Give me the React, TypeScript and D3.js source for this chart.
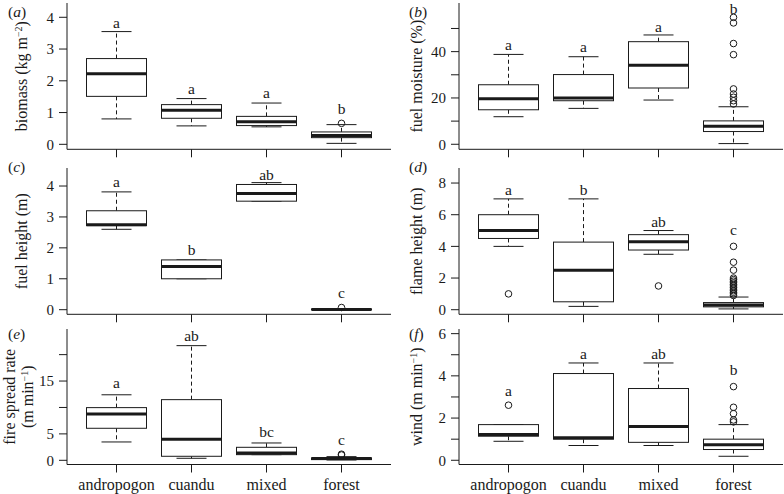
import React from "react";
import * as d3 from "d3";

// ---------- data ----------
const categories = ["andropogon", "cuandu", "mixed", "forest"];

// each entry: [whiskerLow, q1, median, q3, whiskerHigh]
const biomassStats = [[0.80, 1.51, 2.22, 2.70, 3.55], [0.58, 0.82, 1.07, 1.25, 1.44], [0.55, 0.59, 0.71, 0.88, 1.30], [0.03, 0.21, 0.28, 0.39, 0.62]];
const biomassOutliers = [[], [], [], [0.66]];
const biomassLetters = ["a", "a", "a", "b"];
const biomassLetterY = [3.65, 1.59, 1.45, 0.94];
const biomassTicks = [0, 1, 2, 3, 4];
const biomassTickLabels = [0, 1, 2, 3, 4];

const moistureStats = [[11.9, 14.9, 19.7, 25.7, 38.8], [15.5, 18.8, 20.0, 30.1, 37.8], [19.1, 24.3, 34.1, 44.3, 47.2], [0.3, 5.5, 7.8, 10.1, 16.2]];
const moistureOutliers = [[], [], [], [54.8, 52.4, 43.5, 38.7, 23.9, 21.7, 20.3, 18.8, 17.4]];
const moistureLetters = ["a", "a", "a", "b"];
const moistureLetterY = [40.9, 39.8, 48.3, 56.2];
const moistureTicks = [0, 10, 20, 30, 40, 50];
const moistureTickLabels = [0, 20, 40];

const fuelHeightStats = [[2.60, 2.72, 2.75, 3.20, 3.81], [1.00, 1.00, 1.40, 1.61, 1.61], [3.51, 3.51, 3.76, 4.05, 4.11], [0.0, 0.0, 0.01, 0.02, 0.03]];
const fuelHeightOutliers = [[], [], [], [0.07]];
const fuelHeightLetters = ["a", "b", "ab", "c"];
const fuelHeightLetterY = [3.96, 1.77, 4.19, 0.37];
const fuelHeightTicks = [0, 1, 2, 3, 4];
const fuelHeightTickLabels = [0, 1, 2, 3, 4];

const flameStats = [[4.0, 4.5, 5.0, 6.0, 7.0], [0.21, 0.5, 2.5, 4.27, 7.0], [3.5, 3.77, 4.3, 4.74, 5.0], [0.05, 0.18, 0.3, 0.45, 0.8]];
const flameOutliers = [[1.0], [], [1.5], [4.0, 3.0, 2.5, 2.0, 1.9, 1.8, 1.7, 1.6, 1.5, 1.4, 1.3, 1.2, 1.1, 1.0, 0.9]];
const flameLetters = ["a", "b", "ab", "c"];
const flameLetterY = [7.27, 7.27, 5.24, 4.70];
const flameTicks = [0, 2, 4, 6, 8];
const flameTickLabels = [0, 2, 4, 6, 8];

const spreadStats = [[3.47, 6.06, 8.77, 9.97, 12.4], [0.38, 0.76, 3.97, 11.48, 21.7], [1.07, 1.07, 1.39, 2.46, 3.28], [0.06, 0.13, 0.32, 0.44, 0.69]];
const spreadOutliers = [[], [], [], [1.0, 1.15]];
const spreadLetters = ["a", "ab", "bc", "c"];
const spreadLetterY = [13.6, 22.6, 4.47, 2.83];
const spreadTicks = [0, 5, 10, 15, 20];
const spreadTickLabels = [0, 5, 15];

const windStats = [[0.90, 1.14, 1.22, 1.69, 1.69], [0.70, 1.0, 1.07, 4.11, 4.61], [0.70, 0.85, 1.6, 3.4, 4.61], [0.19, 0.51, 0.73, 1.0, 1.69]];
const windOutliers = [[2.61], [], [], [3.49, 2.51, 2.21, 1.91, 1.82]];
const windLetters = ["a", "a", "ab", "b"];
const windLetterY = [3.05, 4.80, 4.80, 4.03];
const windTicks = [0, 1, 2, 3, 4, 5, 6];
const windTickLabels = [0, 2, 4, 6];

// ---------- layout ----------
const W = 784;
const H = 494;
const FONT = "Liberation Serif, Times, Nimbus Roman, DejaVu Serif, serif";
const INK = "#1a1a1a";
const colX = [67, 459];
const rows = [
  { top: 3, bottom: 149.3 },
  { top: 168, bottom: 314.3 },
  { top: 329, bottom: 464.5 },
];

type Panel = {
  tag: string;
  col: number;
  row: number;
  domain: [number, number];
  stats: number[][];
  outliers: number[][];
  letters: string[];
  letterY: number[];
  ticks: number[];
  tickLabels: number[];
  ylabel: React.ReactNode;
};

const sup = (s: string) => (
  <tspan baselineShift="super" style={{ fontSize: 10 }}>{s}</tspan>
);

const panels: Panel[] = [
  { tag: "a", col: 0, row: 0, domain: [-0.157, 4.45], stats: biomassStats, outliers: biomassOutliers, letters: biomassLetters, letterY: biomassLetterY, ticks: biomassTicks, tickLabels: biomassTickLabels, ylabel: <>biomass (kg m{sup("−2")})</> },
  { tag: "b", col: 1, row: 0, domain: [-2.17, 61.0], stats: moistureStats, outliers: moistureOutliers, letters: moistureLetters, letterY: moistureLetterY, ticks: moistureTicks, tickLabels: moistureTickLabels, ylabel: <>fuel moisture (%)</> },
  { tag: "c", col: 0, row: 1, domain: [-0.149, 4.583], stats: fuelHeightStats, outliers: fuelHeightOutliers, letters: fuelHeightLetters, letterY: fuelHeightLetterY, ticks: fuelHeightTicks, tickLabels: fuelHeightTickLabels, ylabel: <>fuel height (m)</> },
  { tag: "d", col: 1, row: 1, domain: [-0.29, 8.95], stats: flameStats, outliers: flameOutliers, letters: flameLetters, letterY: flameLetterY, ticks: flameTicks, tickLabels: flameTickLabels, ylabel: <>flame height (m)</> },
  { tag: "e", col: 0, row: 2, domain: [-0.795, 24.85], stats: spreadStats, outliers: spreadOutliers, letters: spreadLetters, letterY: spreadLetterY, ticks: spreadTicks, tickLabels: spreadTickLabels, ylabel: null },
  { tag: "f", col: 1, row: 2, domain: [-0.2, 6.22], stats: windStats, outliers: windOutliers, letters: windLetters, letterY: windLetterY, ticks: windTicks, tickLabels: windTickLabels, ylabel: <>wind (m min{sup("−1")})</> },
];

const txt = (size: number): React.CSSProperties => ({ fontFamily: FONT, fontSize: size, fill: INK });

function PanelView({ p }: { p: Panel }) {
  const x0 = colX[p.col];
  const { top, bottom } = rows[p.row];
  const x = d3.scaleLinear().domain([0.34, 4.66]).range([x0, x0 + 324]);
  const y = d3.scaleLinear().domain(p.domain).range([bottom, top]);
  const bw = x(0.4) - x(0);
  const cw = x(0.2) - x(0);
  const ymid = (top + bottom) / 2;
  const labX = p.col === 0 ? 21 : 416;
  const tagX = p.col === 0 ? 8 : 409;
  const tagY = [17, 172, 339][p.row];

  return (
    <g>
      <line x1={x0} x2={x0} y1={top} y2={bottom} stroke={INK} strokeWidth={1} />
      <line x1={x0} x2={x0 + 324} y1={bottom} y2={bottom} stroke={INK} strokeWidth={1} />
      {p.ticks.map((t) => (
        <line key={"t" + t} x1={x0 - 8} x2={x0} y1={y(t)} y2={y(t)} stroke={INK} strokeWidth={1} />
      ))}
      {p.tickLabels.map((t) => (
        <text key={"l" + t} x={x0 - 13} y={y(t)} dy="0.35em" textAnchor="end" style={txt(15)}>
          {t}
        </text>
      ))}
      {categories.map((c, i) => (
        <line key={"x" + c} x1={x(i + 1)} x2={x(i + 1)} y1={bottom} y2={bottom + 8} stroke={INK} strokeWidth={1} />
      ))}
      {p.row === 2 &&
        categories.map((c, i) => (
          <text key={"xl" + c} x={x(i + 1)} y={490} textAnchor="middle" style={txt(16)}>
            {c}
          </text>
        ))}
      {p.stats.map((s, i) => {
        const cx = x(i + 1);
        const [wl, q1, med, q3, wh] = s;
        return (
          <g key={"b" + i}>
            <line x1={cx} x2={cx} y1={y(q3)} y2={y(wh)} stroke={INK} strokeWidth={1} strokeDasharray="4,3" />
            <line x1={cx} x2={cx} y1={y(q1)} y2={y(wl)} stroke={INK} strokeWidth={1} strokeDasharray="4,3" />
            <line x1={cx - cw} x2={cx + cw} y1={y(wh)} y2={y(wh)} stroke={INK} strokeWidth={1} />
            <line x1={cx - cw} x2={cx + cw} y1={y(wl)} y2={y(wl)} stroke={INK} strokeWidth={1} />
            <rect x={cx - bw} y={y(q3)} width={2 * bw} height={Math.max(0.5, y(q1) - y(q3))} fill="white" stroke={INK} strokeWidth={1} />
            <line x1={cx - bw} x2={cx + bw} y1={y(med)} y2={y(med)} stroke={INK} strokeWidth={3} />
            {p.outliers[i].map((o, j) => (
              <circle key={j} cx={cx} cy={y(o)} r={3.3} fill="none" stroke={INK} strokeWidth={1} />
            ))}
            <text x={cx} y={y(p.letterY[i])} textAnchor="middle" style={txt(15.5)}>
              {p.letters[i]}
            </text>
          </g>
        );
      })}
      {p.ylabel ? (
        <text transform={`translate(${labX},${ymid}) rotate(-90)`} dy="0.35em" textAnchor="middle" style={txt(16)}>
          {p.ylabel}
        </text>
      ) : (
        <g>
          <text transform={`translate(9,${ymid}) rotate(-90)`} dy="0.35em" textAnchor="middle" style={txt(16)}>
            fire spread rate
          </text>
          <text transform={`translate(27,${ymid}) rotate(-90)`} dy="0.35em" textAnchor="middle" style={txt(16)}>
            (m min{sup("−1")})
          </text>
        </g>
      )}
      <text x={tagX} y={tagY} style={txt(15.5)}>
        (<tspan style={{ fontStyle: "italic" }}>{p.tag}</tspan>)
      </text>
    </g>
  );
}

export default function App() {
  return (
    <svg width={W} height={H} viewBox={`0 0 ${W} ${H}`} style={{ position: "absolute", left: 0, top: 0, background: "white" }}>
      <rect x={0} y={0} width={W} height={H} fill="white" />
      {panels.map((p) => (
        <PanelView key={p.tag} p={p} />
      ))}
    </svg>
  );
}
